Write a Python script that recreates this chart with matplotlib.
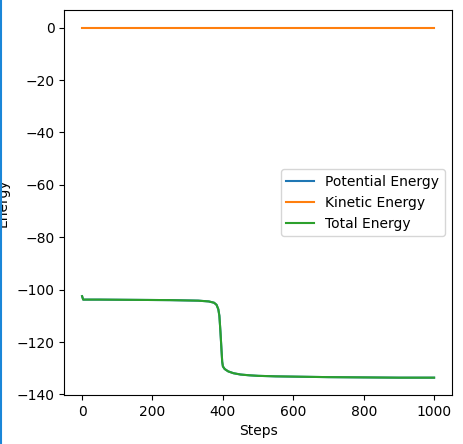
import numpy as np
import matplotlib
matplotlib.use('Agg')
import matplotlib.pyplot as plt
from matplotlib.lines import Line2D

steps = [0, 3, 50, 150, 250, 330, 360, 375, 382, 387, 390, 393, 396, 398, 400,
         405, 415, 430, 450, 475, 500, 550, 600, 700, 800, 900, 1000]
potential = [-102.5, -103.8, -103.8, -103.9, -104.0, -104.2, -104.5, -105.0, -105.8,
             -107.5, -110.0, -116.0, -123.0, -127.5, -129.3, -130.3, -131.2, -131.9,
             -132.4, -132.7, -132.9, -133.1, -133.2, -133.4, -133.5, -133.6, -133.6]
kinetic = [0.0] * len(steps)
total = [p + k for p, k in zip(potential, kinetic)]

fig = plt.figure(figsize=(4.64, 4.44), dpi=100)
ax = fig.add_axes([0.139, 0.110, 0.8345, 0.867])

ax.plot(steps, potential, label='Potential Energy')
ax.plot(steps, kinetic, label='Kinetic Energy')
ax.plot(steps, total, label='Total Energy')

ax.set_xlabel('Steps')
ax.set_ylabel('Energy')
ax.yaxis.set_label_coords(-0.141, 0.5)
ax.set_xticks([0, 200, 400, 600, 800, 1000])
ax.set_yticks([0, -20, -40, -60, -80, -100, -120, -140])
ax.legend(loc='center right')

# blue edge strip at the left of the screenshot
fig.add_artist(Line2D([0.002, 0.002], [0.0, 1.0], color='#1a86d8', linewidth=1.5,
                      transform=fig.transFigure))

fig.savefig('out.png', dpi=100)
